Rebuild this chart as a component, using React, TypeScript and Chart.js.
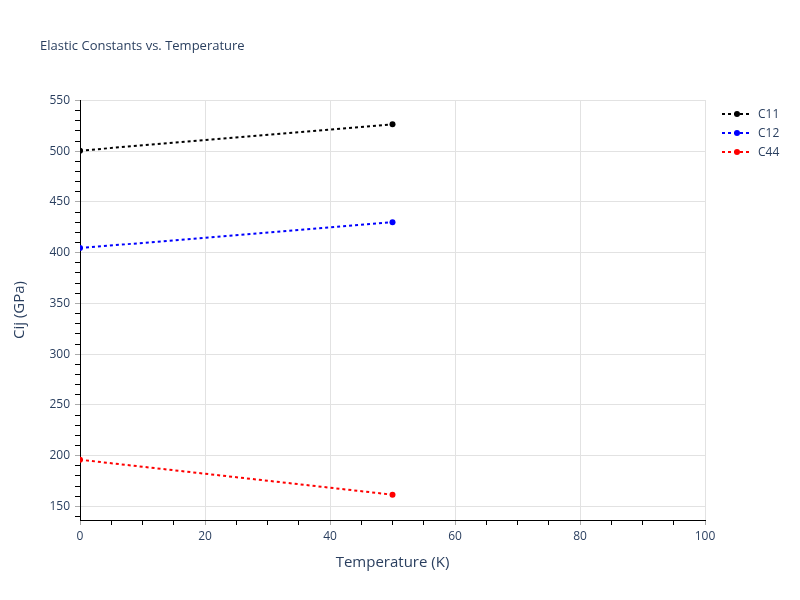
import { useEffect, useRef } from 'react'
import { Chart, registerables } from 'chart.js'
import type { Plugin } from 'chart.js'

Chart.register(...registerables)

const temperatures = [0, 50]
const c11 = [500.5, 526.5]
const c12 = [404.5, 430]
const c44 = [196, 161.5]

const seriesNames = ['C11', 'C12', 'C44']
const seriesColors = ['#000000', '#0000ff', '#ff0000']

const FONT = '"Open Sans", verdana, arial, sans-serif'
const TEXT = '#2a3f5f'

// plotly-ish title in the top-left corner
const titlePlugin: Plugin<'line'> = {
  id: 'plotTitle',
  afterDraw(chart) {
    const ctx = chart.ctx
    ctx.save()
    ctx.font = `13px ${FONT}`
    ctx.fillStyle = TEXT
    ctx.textBaseline = 'middle'
    ctx.fillText('Elastic Constants vs. Temperature', 40, 46)
    ctx.restore()
  }
}

// legend to the right of the plot: dotted line, marker, label
const legendPlugin: Plugin<'line'> = {
  id: 'sideLegend',
  afterDraw(chart) {
    const ctx = chart.ctx
    ctx.save()
    chart.data.datasets.forEach((ds, i) => {
      const y = 114 + i * 19
      const color = ds.borderColor as string
      ctx.strokeStyle = color
      ctx.lineWidth = 2
      ctx.setLineDash([3, 3])
      ctx.beginPath()
      ctx.moveTo(722, y)
      ctx.lineTo(752, y)
      ctx.stroke()
      ctx.setLineDash([])
      ctx.fillStyle = color
      ctx.beginPath()
      ctx.arc(737, y, 3, 0, Math.PI * 2)
      ctx.fill()
      ctx.fillStyle = TEXT
      ctx.font = `12px ${FONT}`
      ctx.textBaseline = 'middle'
      ctx.fillText(ds.label ?? '', 758, y + 1)
    })
    ctx.restore()
  }
}

export default function App() {
  const canvasRef = useRef<HTMLCanvasElement>(null)

  useEffect(() => {
    if (!canvasRef.current) return
    const ctx = canvasRef.current.getContext('2d')
    if (!ctx) return

    const values = [c11, c12, c44]
    const datasets = values.map((vals, i) => ({
      label: seriesNames[i],
      data: vals.map((v, j) => ({ x: temperatures[j], y: v })),
      borderColor: seriesColors[i],
      backgroundColor: seriesColors[i],
      borderWidth: 2,
      borderDash: [3, 3],
      pointRadius: 3,
      pointBorderWidth: 0,
      pointBackgroundColor: seriesColors[i],
      fill: false,
      tension: 0
    }))

    const chart = new Chart(ctx, {
      type: 'line',
      data: { datasets },
      plugins: [titlePlugin, legendPlugin],
      options: {
        animation: false,
        responsive: false,
        layout: { padding: { top: 100, right: 95, left: 0, bottom: 0 } },
        plugins: {
          legend: { display: false },
          tooltip: { enabled: false },
          title: { display: false }
        },
        scales: {
          x: {
            type: 'linear',
            min: 0,
            max: 100,
            afterFit: (scale) => { scale.height = 80 },
            border: { display: true, color: '#000000', width: 1 },
            grid: {
              color: (c) => (c.tick && c.tick.value % 20 === 0 ? '#e2e2e2' : 'rgba(0,0,0,0)'),
              tickColor: (c) => (c.tick && c.tick.value % 20 === 0 ? '#aaaaaa' : '#000000'),
              tickLength: 5,
              lineWidth: 1
            },
            ticks: {
              stepSize: 5,
              autoSkip: false,
              maxRotation: 0,
              padding: 4,
              color: TEXT,
              font: { family: FONT, size: 12 },
              callback: (v) => (Number(v) % 20 === 0 ? String(v) : '')
            },
            title: {
              display: true,
              text: 'Temperature (K)',
              color: TEXT,
              font: { family: FONT, size: 15 },
              padding: { top: 0, bottom: 28 }
            }
          },
          y: {
            type: 'linear',
            min: 136.6,
            max: 550.4,
            afterFit: (scale) => { scale.width = 80 },
            border: { display: true, color: '#000000', width: 1 },
            grid: {
              color: (c) => (c.tick && c.tick.value % 50 === 0 ? '#e2e2e2' : 'rgba(0,0,0,0)'),
              tickColor: (c) => (c.tick && c.tick.value % 50 === 0 ? '#aaaaaa' : '#000000'),
              tickLength: 5,
              lineWidth: 1
            },
            ticks: {
              stepSize: 10,
              includeBounds: false,
              autoSkip: false,
              padding: 5,
              color: TEXT,
              font: { family: FONT, size: 12 },
              callback: (v) => (Number(v) % 50 === 0 ? String(v) : '')
            },
            title: {
              display: true,
              text: 'Cij (GPa)',
              color: TEXT,
              font: { family: FONT, size: 15 },
              padding: { top: 11, bottom: 0 }
            }
          }
        }
      }
    })

    return () => {
      chart.destroy()
    }
  }, [])

  return (
    <div style={{ position: 'fixed', left: 0, top: 0, width: 800, height: 600, background: '#ffffff' }}>
      <canvas ref={canvasRef} width={800} height={600} />
    </div>
  )
}
